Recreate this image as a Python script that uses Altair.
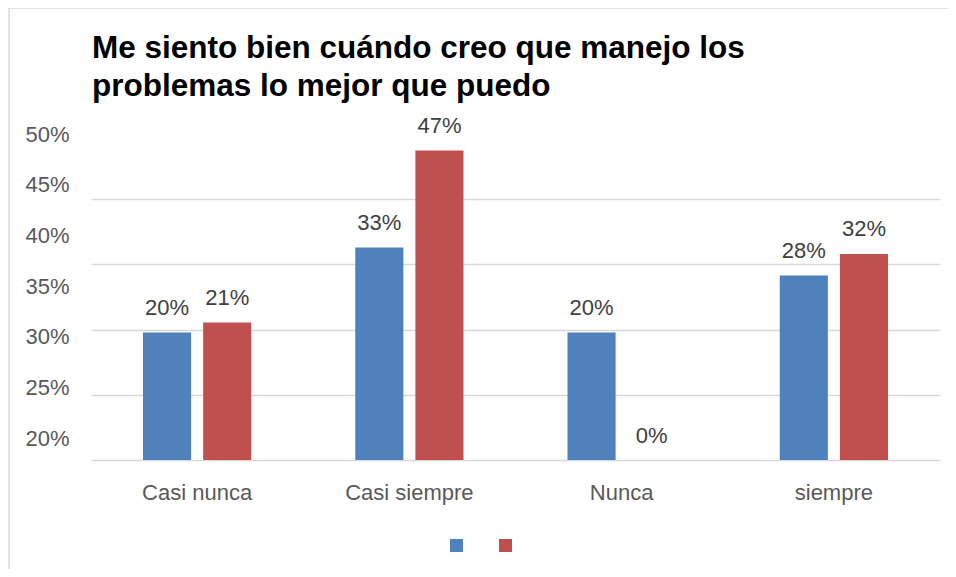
import altair as alt
import pandas as pd

categorias = ["Casi nunca", "Casi siempre", "Nunca", "siempre"]
serie_1 = [0.1955, 0.326, 0.1955, 0.283]
serie_2 = [0.211, 0.4746, 0.0, 0.316]
series = ["Serie 1", "Serie 2"]
colores = ["#4F81BD", "#C0504D"]
grid_vals = [0.0, 0.05, 0.10, 0.15, 0.20, 0.25, 0.30, 0.35, 0.40, 0.45]
etiquetas_y = [0.20, 0.25, 0.30, 0.35, 0.40, 0.45, 0.50]
titulo = ["Me siento bien cuándo creo que manejo los", "problemas lo mejor que puedo"]

rows = []
for c, a, b in zip(categorias, serie_1, serie_2):
    rows.append({"categoria": c, "serie": series[0], "valor": a})
    rows.append({"categoria": c, "serie": series[1], "valor": b})
df = pd.DataFrame(rows)
df_ticks = pd.DataFrame({"tick": etiquetas_y})

FONT = "Liberation Sans"

x_enc = alt.X(
    "categoria:N",
    sort=categorias,
    scale=alt.Scale(paddingInner=0.49, paddingOuter=0.245),
    axis=alt.Axis(
        title=None, labelAngle=0, domain=False, ticks=False, grid=False,
        labelFontSize=22, labelColor="#595959", labelFont=FONT, labelPadding=22,
    ),
)
xoff = alt.XOffset("serie:N", sort=series, scale=alt.Scale(paddingInner=0.2, paddingOuter=0))
y_main = alt.Y(
    "valor:Q",
    scale=alt.Scale(domain=[0, 0.5], nice=False, zero=True),
    axis=alt.Axis(
        values=grid_vals, orient="right", grid=True, labels=False, ticks=False,
        domain=False, title=None, gridColor="#d9d9d9", gridWidth=1.6,
    ),
)

bars = alt.Chart(df).mark_bar().encode(
    x=x_enc,
    xOffset=xoff,
    y=y_main,
    color=alt.Color(
        "serie:N",
        scale=alt.Scale(domain=series, range=colores),
        legend=alt.Legend(
            title=None, orient="none", legendX=359, legendY=405, direction="horizontal",
            symbolType="square", symbolSize=169, symbolStrokeWidth=0,
            labelExpr="''", labelFontSize=1, labelOffset=0, columnPadding=36, padding=0,
        ),
    ),
)

text = alt.Chart(df).mark_text(
    baseline="alphabetic", dy=-17.5, fontSize=22, font=FONT, color="#404040"
).encode(
    x=alt.X("categoria:N", sort=categorias),
    xOffset=alt.XOffset("serie:N", sort=series),
    y=alt.Y("valor:Q"),
    text=alt.Text("valor:Q", format=".0%"),
)

main = alt.layer(bars, text)

ylabels = alt.Chart(df_ticks).mark_point(opacity=0).encode(
    y=alt.Y(
        "tick:Q",
        scale=alt.Scale(domain=[0.1783, 0.5], nice=False, zero=False),
        axis=alt.Axis(
            values=etiquetas_y, format=".0%", orient="left", grid=False, ticks=False,
            tickSize=0, domain=False, title=None, labelFontSize=22, labelColor="#595959",
            labelFont=FONT, labelPadding=22,
        ),
    )
)

border = alt.Chart(pd.DataFrame({"k": [0]})).mark_rect(
    fill="transparent", stroke="#d9d9d9", strokeWidth=1.5
).encode(
    x=alt.value(-82), x2=alt.value(1200), y=alt.value(-126), y2=alt.value(1000)
)

chart = alt.layer(border, main, ylabels).resolve_scale(y="independent").properties(
    width=849,
    height=326,
    padding={"left": 83, "top": 126, "right": 8, "bottom": 109},
    autosize=alt.AutoSizeParams(type="none"),
    title=alt.TitleParams(
        text=titulo, anchor="start", frame="group", fontSize=31.5, font=FONT,
        fontWeight="bold", color="#000000", lineHeight=38, offset=-95, dx=1,
    ),
).configure_view(stroke=None)

chart.save("out.html", embed_options={"renderer": "svg", "actions": False})
